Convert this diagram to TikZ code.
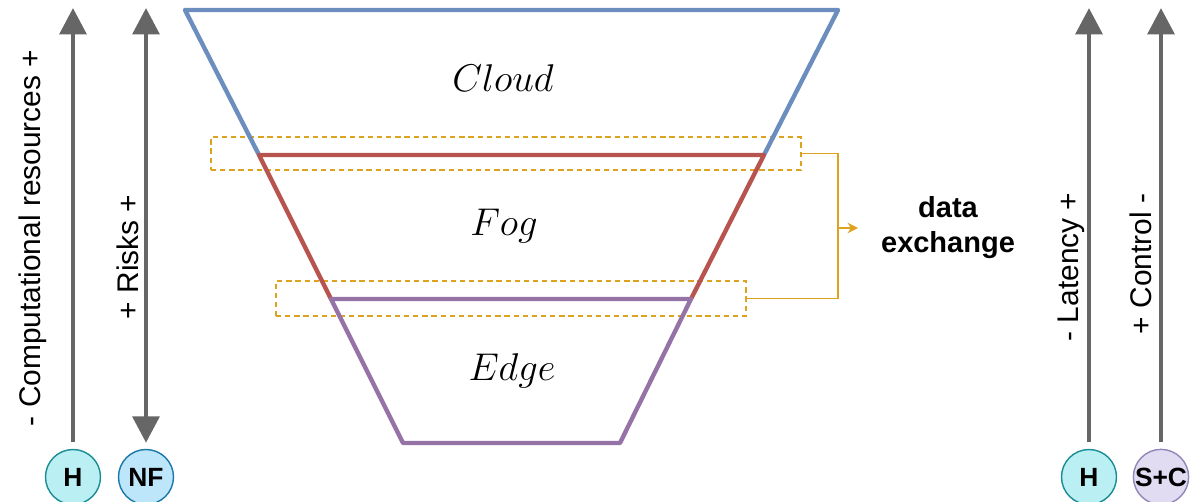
\documentclass[tikz,border=0pt]{standalone}
\usepackage{fix-cm}
\usepackage{fontspec}
\setsansfont{Liberation Sans}
\usepackage{xcolor}
\usepackage{tikz}
\usetikzlibrary{arrows.meta,positioning}
\definecolor{LBlue}{HTML}{6C8EBF}
\definecolor{LRed}{HTML}{B85450}
\definecolor{LPurple}{HTML}{9673A6}
\definecolor{LOrange}{HTML}{DDA21E}
\definecolor{LGray}{HTML}{666666}
\definecolor{HFill}{HTML}{BAF0F3}
\definecolor{HLine}{HTML}{1A8C94}
\definecolor{NFFill}{HTML}{BDE6FA}
\definecolor{NFLine}{HTML}{1A78A8}
\definecolor{SCFill}{HTML}{E2DCF2}
\definecolor{SCLine}{HTML}{9285B8}
\begin{document}
\begin{tikzpicture}[
  x=0.02cm,y=-0.02cm,
  tier/.style={line width=2.5pt,line join=round},
  lbl/.style={font=\fontsize{22}{26}\selectfont,inner sep=0pt},
  xbox/.style={draw=LOrange,dashed,dash pattern=on 3pt off 2.2pt,line width=0.9pt,inner sep=0pt},
  link/.style={draw=LOrange,line width=1.1pt},
  garr/.style={draw=LGray,line width=2.8pt,-{Triangle[length=15pt,width=15pt]}},
  axis/.style={font=\sffamily\fontsize{17}{20}\selectfont,rotate=90,inner sep=0pt},
  circ/.style={circle,minimum size=1.1cm,inner sep=0pt,line width=0.8pt,
    font=\sffamily\bfseries\fontsize{15}{18}\selectfont}
]
  \useasboundingbox (0,0) rectangle (1190,502);
  % exchange zones
  \node[xbox,minimum width=11.8cm,minimum height=0.66cm] (xch1) at (506,153.5) {};
  \node[xbox,minimum width=9.4cm,minimum height=0.7cm] (xch2) at (511,298.5) {};
  % funnel corners
  \coordinate (ctl) at (185,10);  \coordinate (ctr) at (838,10);
  \coordinate (ftl) at (259,155); \coordinate (ftr) at (764,155);
  \coordinate (etl) at (331,299); \coordinate (etr) at (691,299);
  \coordinate (ebl) at (403,443); \coordinate (ebr) at (620,443);
  \draw[tier,LBlue] (ftl) -- (ctl) -- (ctr) -- (ftr);
  \draw[tier,LRed] (etl) -- (ftl) -- (ftr) -- (etr);
  \draw[tier,LPurple] (etl) -- (etr) -- (ebr) -- (ebl) -- cycle;
  \node[lbl] (cloud) at (503,78) {$Cloud$};
  \node[lbl] (fog) at (504,226) {$Fog$};
  \node[lbl] (edge) at (512,371) {$Edge$};
  % data exchange
  \node[font=\sffamily\bfseries\fontsize{16.5}{20}\selectfont,align=center] (xtext) at (948,228) {data\\exchange};
  \coordinate (xin) at (858,228);
  \draw[link] (xch1.east) -- ++(36,0) coordinate (jt) |- (xch2.east);
  \draw[link,-{Stealth[length=6pt,width=6pt,inset=2pt]}] (jt |- xin) -- (xin);
  % side scales
  \node[circ,fill=HFill,draw=HLine] (hl) at (73,477) {H};
  \node[circ,fill=NFFill,draw=NFLine] (nf) at (146,477) {NF};
  \node[circ,fill=HFill,draw=HLine] (hr) at (1089,477) {H};
  \node[circ,fill=SCFill,draw=SCLine] (sc) at (1161,477) {S+C};
  \foreach \n/\x in {hl/73,nf/146,hr/1089,sc/1161}
    {\coordinate (\n top) at (\x,8);}
  \foreach \n in {hl,hr,sc}
    {\draw[garr,shorten <=0.14cm] (\n.north) -- (\n top);}
  \draw[garr,{Triangle[length=15pt,width=15pt]}-{Triangle[length=15pt,width=15pt]},shorten <=0.12cm] (nf.north) -- (nftop);
  \node[axis] (comp) at (33,238) {- Computational resources +};
  \node[axis] (risk) at (128,257) {+ Risks +};
  \node[axis] (lat) at (1071,267) {- Latency +};
  \node[axis] (ctrl) at (1141,264) {+ Control -};
\end{tikzpicture}
\end{document}
